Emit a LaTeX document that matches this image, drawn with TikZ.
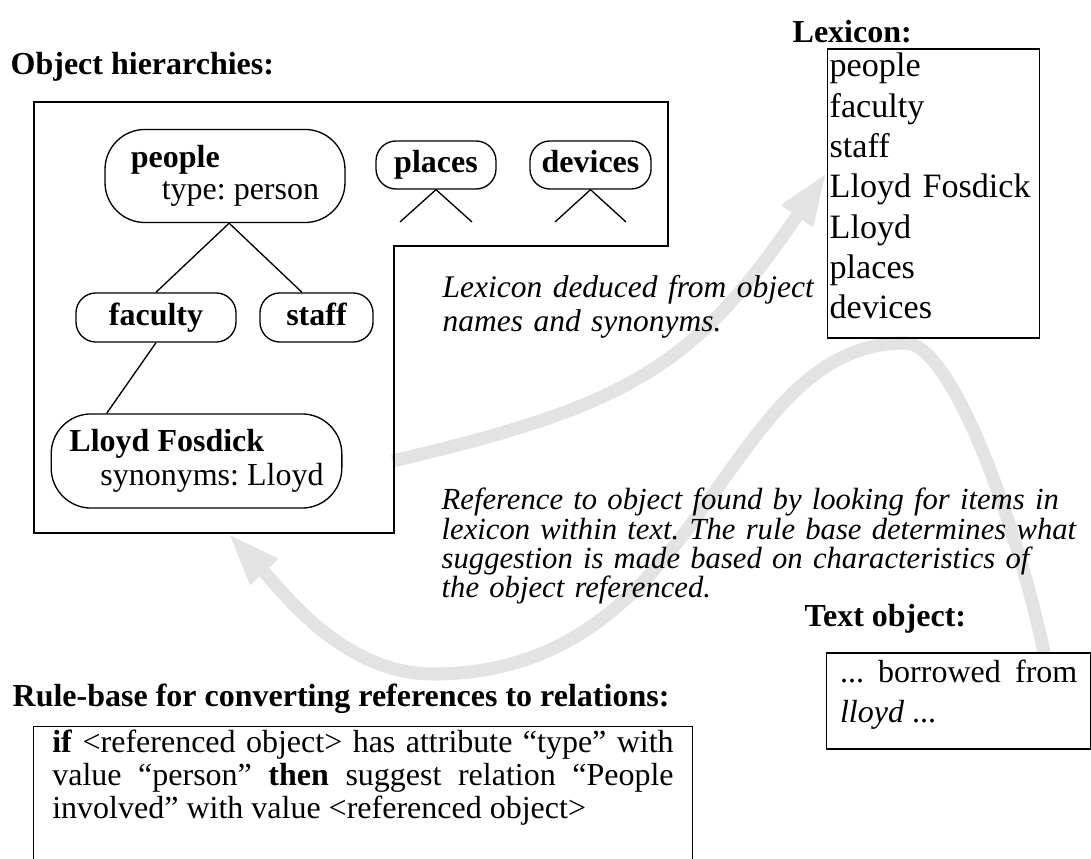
\documentclass[tikz,border=0pt]{standalone}
\usepackage{fontspec}
\setmainfont{Liberation Serif}
\usetikzlibrary{arrows.meta,backgrounds}

\begin{document}
\begin{tikzpicture}[x=0.375pt,y=-0.375pt,line width=0.5pt,
		objnode/.style={draw,rounded corners=7.5pt,inner sep=0pt,font=\bfseries,text height=8.5pt,text depth=2.5pt},
		bignode/.style={draw,rounded corners=15pt,inner sep=0pt,align=left},
		heading/.style={anchor=base west,inner sep=0pt,font=\bfseries},
		note/.style={anchor=base west,inner sep=0pt,align=left},
		framed/.style={draw,anchor=base west,text height=8pt},
		flow/.style={draw=black!11,line width=4.9pt,-{Triangle[length=20pt,width=13pt]}}]
		\fontsize{12}{14}\selectfont\frenchspacing
		\useasboundingbox (0,0) rectangle (1091,859);
		\clip (0,0) rectangle (1091,859);

		\node[heading] (objtitle) at (10,75) {Object hierarchies:};
		\node[heading] (lextitle) at (792,43) {Lexicon:};
		\node[heading] (txttitle) at (804,627) {Text object:};
		\node[heading] (ruletitle) at (12,707) {Rule-base for converting references to relations:};

		\coordinate (hbl) at (34,533);
		\draw (34,102) -- (668,102) -- (668,246) -- (394,246) -- (394,533) -- (hbl) -- cycle;

		\node[bignode,minimum width=90pt,minimum height=34.9pt,font=\fontsize{12}{12}\selectfont] (people) at (225,176)
			{\textbf{people}\\\hspace*{11.6pt}type: person};
		\node[objnode,minimum width=45pt,minimum height=18pt] (places) at (436,165) {places};
		\node[objnode,minimum width=45.4pt,minimum height=18pt] (devices) at (590.5,165) {devices};
		\node[objnode,minimum width=60pt,minimum height=18.4pt] (faculty) at (156,317.5) {faculty};
		\node[objnode,minimum width=42.4pt,minimum height=18.4pt] (staff) at (316.5,317.5) {staff};
		\node[bignode,minimum width=109pt,minimum height=35.3pt,font=\fontsize{12}{13}\selectfont] (lloyd) at (196.5,461)
			{\textbf{Lloyd Fosdick}\\\hspace*{11.6pt}synonyms: Lloyd};

		\coordinate (plL) at (400,222);
		\coordinate (plR) at (472,222);
		\coordinate (dvL) at (555,222);
		\coordinate (dvR) at (626,222);
		\draw (people.-85) -- (faculty.north);
		\draw (people.-85) -- (staff.120);
		\draw (faculty.south) -- (lloyd.152);
		\draw (places.south) -- (plL);
		\draw (places.south) -- (plR);
		\draw (devices.south) -- (dvL);
		\draw (devices.south) -- (dvR);

		\node[framed,text width=78pt,inner xsep=0.75pt,inner ysep=2.5pt,text depth=95.4pt,align=left,
			font=\fontsize{12.8}{15.1}\selectfont] (lexicon) at (827,77)
			{people\\faculty\\staff\\\mbox{Lloyd Fosdick}\\Lloyd\\places\\devices};

		\node[note,text width=160pt,font=\itshape\fontsize{11.8}{12.4}\selectfont] (lexnote) at (442,298)
			{Lexicon deduced from object\\names and synonyms.};
		\node[note,text width=260pt,font=\itshape\fontsize{11.5}{10.9}\selectfont] (refnote) at (441,510)
			{Reference to object found by looking for items in\\lexicon within text. The rule base determines what\\suggestion is made based on characteristics of\\the object referenced.};

		\node[framed,text width=89pt,inner xsep=5pt,inner ysep=3.25pt,text depth=21.5pt,align=justify,
			font=\fontsize{12}{15}\selectfont\frenchspacing] (txt) at (826,683)
			{... borrowed from\linebreak \textit{lloyd} ...};

		\node[framed,text width=233pt,inner xsep=7pt,inner ysep=2pt,text depth=60pt,align=justify,
			font=\fontsize{12}{12.2}\selectfont] (rules) at (33,753)
			{\textbf{if} \textless referenced object\textgreater{} has attribute ``type'' with\linebreak
			value ``person'' \textbf{then} suggest relation ``People\linebreak
			involved'' with value \textless referenced object\textgreater};

		\begin{pgfonlayer}{background}
			\draw[flow] ([xshift=18.75pt]lloyd.east) .. controls (633,405) and (695,365) .. ([yshift=8pt]lexicon.west);
			\draw[flow] ([xshift=32pt]txt.north) .. controls (1020,537) and (954,343) .. (905,343)
				.. controls (718.5,343) and (709.5,674) .. (433,674)
				.. controls (343,674) and (282,591) .. ([xshift=72.75pt]hbl);
		\end{pgfonlayer}
	\end{tikzpicture}
\end{document}
